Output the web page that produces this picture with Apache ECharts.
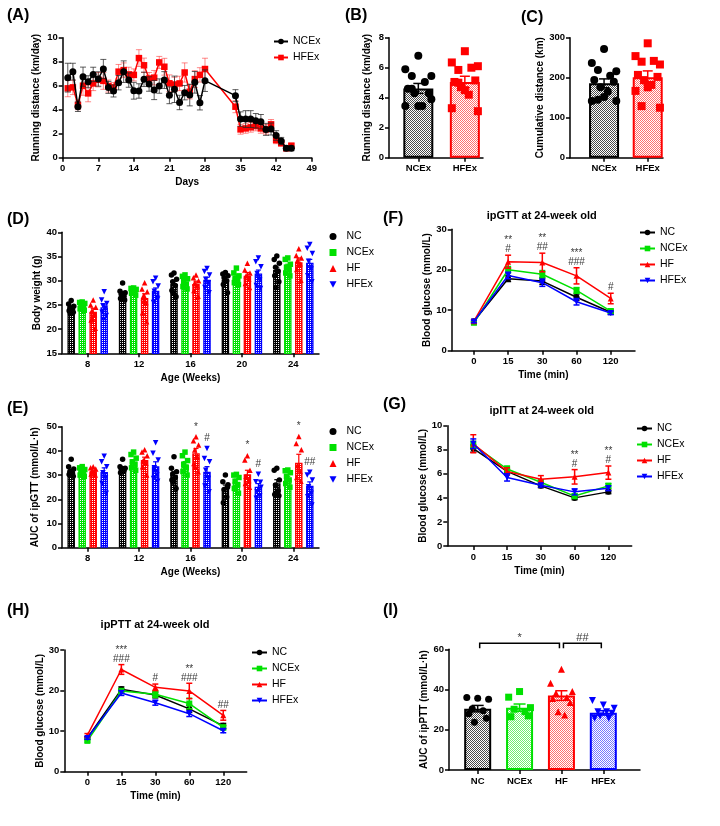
<!DOCTYPE html>
<html>
<head>
<meta charset="utf-8">
<script src="https://cdn.jsdelivr.net/npm/echarts@6/dist/echarts.min.js"></script>
<style>html,body{margin:0;padding:0;background:#fff;}#chart{width:720px;height:826px;}</style>
</head>
<body>
<div id="chart"></div>
<script>
// ================= DATA =================
const groupNames = ['NC', 'NCEx', 'HF', 'HFEx'];

// (A) daily running distance (km/day): mean and SEM
const aDays = [1,2,3,4,5,6,7,8,9,10,11,12,13,14,15,16,17,18,19,20,21,22,23,24,25,26,27,28,34,35,36,37,38,39,40,41,42,43,44,45];
const aNCEx = [6.67,7.17,4.25,6.75,6.33,6.94,6.56,7.39,5.86,5.56,6.25,7.17,6.47,5.58,5.56,6.53,6.14,5.64,5.97,6.47,5.2,5.7,4.6,5.42,5.22,6.28,4.58,6.42,5.17,3.22,3.22,3.22,3.08,3.0,2.36,2.39,1.85,1.39,0.78,0.78];
const aNCExErr = [1.2,0.7,0.4,0.8,0.5,0.6,0.6,0.8,0.5,0.5,0.6,0.9,0.6,0.7,0.6,0.6,0.6,0.8,0.6,0.7,0.7,1.1,0.6,0.6,0.9,0.9,0.6,0.9,0.5,0.6,0.7,0.7,0.6,0.6,0.5,0.5,0.4,0.3,0.2,0.2];
const aHFEx = [5.78,5.86,4.4,6.0,5.36,6.19,6.5,6.4,5.97,5.86,7.17,7.3,6.94,6.9,8.3,7.7,6.6,6.67,7.94,7.58,6.2,6.1,6.19,7.1,5.5,6.55,6.9,7.39,4.25,2.36,2.44,2.53,2.64,2.44,2.36,2.78,1.47,1.2,0.78,1.0];
const aHFExErr = [0.7,0.6,0.4,0.8,0.7,0.6,0.6,0.7,0.5,0.4,0.6,0.6,0.6,0.5,0.7,0.6,0.5,0.6,0.5,0.7,0.7,0.6,0.6,0.8,0.6,0.7,0.6,0.9,0.5,0.4,0.4,0.4,0.4,0.4,0.4,0.4,0.3,0.2,0.1,0.2];

// (B) running distance (km/day)
const bCats = ['NCEx', 'HFEx'];
const bMeans = [4.62, 5.05];
const bErrs = [0.33, 0.38];
const bPtsNCEx = [6.8,5.9,5.45,5.45,5.05,4.6,4.3,4.3,3.45,3.45,3.45,3.9,4.6];
const bPtsHFEx = [7.1,6.35,6.1,5.85,6.0,5.05,5.15,4.7,4.2,4.5,3.3,3.1,5.0];

// (C) cumulative distance (km)
const cCats = ['NCEx', 'HFEx'];
const cMeans = [186, 201];
const cErrs = [11, 16];
const cPtsNCEx = [272,237,216,219,205,194,190,176,165,152,142,142,145];
const cPtsHFEx = [286,254,233,240,242,207,202,194,182,176,167,125,129];

// (D) body weight (g) by age
const weekLabels = ['8', '12', '16', '20', '24'];
const dNC = [24.3,27.3,29.3,30.2,32.2];
const dNCEx = [24.9,28.0,29.8,30.7,32.9];
const dHF = [23.6,26.4,29.3,31.0,33.8];
const dHFEx = [24.5,27.9,30.2,31.5,33.7];
const dNCErr = [0.4,0.4,0.6,0.6,0.6];
const dNCExErr = [0.3,0.3,0.4,0.5,0.5];
const dHFErr = [0.7,0.9,0.6,0.7,0.9];
const dHFExErr = [0.5,0.6,0.5,0.7,0.7];
const dNCPts = [[25.9,25.2,24.7,24.4,24.1,23.8,23.5,23.2],[29.5,27.8,27.5,27.2,26.8,26.3,26.0,27.0],[31.6,31.2,30.3,29.8,29.0,28.0,26.7,27.5],[31.7,31.4,31.0,30.6,30.0,29.2,27.5],[35.1,34.4,33.6,32.8,32.0,31.0,29.8,28.6]];
const dNCExPts = [[25.6,25.5,25.3,25.0,24.6,24.2,23.9],[28.5,28.4,28.2,28.0,27.7,27.4,27.0],[31.2,30.9,30.4,29.8,29.3,28.8,28.3],[32.6,31.6,31.0,30.5,30.0,29.6,29.2],[34.7,34.4,33.4,32.8,32.2,31.6,31.0]];
const dHFPts = [[26.0,25.0,24.5,23.8,23.0,21.9,20.2,22.2],[29.6,28.3,27.7,26.5,25.5,23.4,21.5,27.0],[31.2,30.6,30.0,29.5,28.9,28.0,26.8],[33.6,32.2,31.6,31.0,30.3,29.4,28.6],[36.6,35.2,34.7,34.2,33.5,32.3,30.1]];
const dHFExPts = [[27.7,26.0,25.3,24.8,24.3,23.5,22.8,22.0],[30.5,29.8,28.9,27.8,26.5,25.5,26.2],[32.5,31.9,31.2,30.3,29.6,28.6,27.5],[34.7,33.9,32.9,31.5,30.1,29.0,28.4],[37.5,36.7,35.6,34.0,32.4,31.0,29.8]];

// (E) AUC of ipGTT (mmol/L·h) by age
const eNC = [31.6,32.8,30.0,24.5,26.6];
const eNCEx = [31.2,35.5,34.5,27.3,28.6];
const eHF = [31.6,36.2,39.0,30.4,35.1];
const eHFEx = [31.3,33.7,31.4,25.2,25.6];
const eNCErr = [0.8,0.7,1.4,1.4,1.5];
const eNCExErr = [0.6,0.9,1.1,1.0,0.9];
const eHFErr = [0.5,1.2,2.0,1.6,3.5];
const eHFExErr = [1.7,1.8,2.1,1.3,1.6];
const eNCPts = [[36.6,33.5,32.5,31.5,30.8,30.2,29.5],[36.6,33.5,32.8,32.3,31.8,31.0],[37.6,32.8,31.4,30.5,29.0,28.0,24.5,27.0],[30.0,27.3,26.0,24.0,21.0,18.6,25.0],[32.8,32.0,28.0,25.9,23.5,22.0,21.5]];
const eNCExPts = [[33.5,33.0,32.3,31.5,30.8,30.0,29.5],[39.5,38.5,37.0,35.5,34.5,33.0,32.0],[39.5,38.0,36.0,34.5,33.0,31.5,30.0],[30.3,30.0,29.0,27.5,26.0,24.5,22.5],[32.1,31.8,31.0,29.5,28.0,26.5,25.0]];
const eHFPts = [[33.5,33.0,32.5,31.8,31.0,30.5,30.0],[40.5,39.5,38.0,36.0,35.0,33.5,30.0],[45.8,44.2,42.4,40.4,37.6,34.8,31.4,33.5],[38.0,36.2,32.0,29.5,27.8,26.5,25.0],[46.0,43.1,40.5,34.0,31.5,29.0,27.5]];
const eHFExPts = [[37.8,35.5,33.5,31.0,28.8,26.5,22.5],[43.4,39.0,36.2,33.0,30.0,28.6,27.5],[41.0,36.9,35.5,32.0,28.6,25.5,23.1],[30.4,27.3,25.0,23.1,21.5,20.4,27.0],[31.2,30.0,28.0,25.2,22.5,21.1,17.6]];
const eMarksHF = ['', '', '*', '*', '*'];
const eMarksHFEx = ['', '', '#', '#', '##'];

// (F) ipGTT blood glucose (mmol/L)
const timeLabels = ['0', '15', '30', '60', '120'];
const fNC = [7.3,17.8,17.2,13.2,9.5];
const fNCEx = [6.9,20.0,18.9,14.9,9.8];
const fHF = [7.3,22.0,21.8,18.5,12.9];
const fHFEx = [7.2,18.6,16.8,12.1,9.3];
const fNCErr = [0.4,0.7,0.8,0.8,0.5];
const fNCExErr = [0.3,0.8,0.9,0.7,0.5];
const fHFErr = [0.4,1.6,2.3,2.0,1.3];
const fHFExErr = [0.3,0.8,0.9,0.8,0.4];
const fMarks = ['', '**\n#', '**\n##', '***\n###', '#'];

// (G) ipITT blood glucose (mmol/L)
const gNC = [8.1,6.2,5.0,4.0,4.5];
const gNCEx = [8.4,6.4,5.3,4.15,5.0];
const gHF = [8.5,6.2,5.55,5.75,6.1];
const gHFEx = [8.5,5.7,5.05,4.5,4.8];
const gNCErr = [0.3,0.2,0.15,0.15,0.15];
const gNCExErr = [0.3,0.25,0.2,0.2,0.2];
const gHFErr = [0.75,0.3,0.3,0.6,0.55];
const gHFExErr = [0.4,0.3,0.15,0.25,0.2];
const gMarks = ['', '', '', '**\n#', '**\n#'];

// (H) ipPTT blood glucose (mmol/L)
const hNC = [8.3,20.3,18.9,15.5,11.3];
const hNCEx = [7.6,19.9,19.1,16.8,10.9];
const hHF = [9.0,25.2,20.8,19.9,13.9];
const hHFEx = [8.3,19.4,17.0,14.3,10.1];
const hNCErr = [0.4,0.6,0.7,0.9,0.6];
const hNCExErr = [0.3,0.6,0.8,1.3,0.6];
const hHFErr = [0.4,1.2,0.8,1.9,1.2];
const hHFExErr = [0.3,0.6,0.6,0.7,0.5];
const hMarks = ['', '***\n###', '#', '**\n###', '##'];

// (I) AUC of ipPTT (mmol/L·h)
const iMeans = [30.5, 31.0, 37.0, 28.4];
const iErrs = [1.6, 1.8, 2.4, 1.1];
const iPtsNC = [35.7,36.0,35.2,30.5,29.5,28.0,25.7,23.7];
const iPtsNCEx = [39.0,36.2,31.0,30.2,29.0,26.5,26.9];
const iPtsHF = [50.1,43.1,39.0,38.1,36.0,35.5,33.5,29.0,27.4];
const iPtsHFEx = [32.3,34.5,30.7,29.0,25.7,25.7,28.2,26.9,29.0];
const iBrackets = [[0, 2, '*'], [2, 3, '##']];

// ================= STYLE / LAYOUT =================
const FONT = '"Liberation Sans", Arial, sans-serif';
const COL = {NC: '#000000', NCEx: '#00e000', HF: '#ff0000', HFEx: '#0000ff'};
const TINT = {'#000000': '#4a4a4a', '#00e000': '#70f070', '#ff0000': '#ff7070', '#0000ff': '#7878ff'};
const SYM = {NC: 'circle', NCEx: 'rect', HF: 'triangle', HFEx: 'path://M0,0L10,0L5,9Z'};

// dotted bar fill: 'light' = checkerboard of tinted colour and white, 'dense' = colour with white dots
function pattern(color, kind) {
  const c = document.createElement('canvas');
  c.width = 2; c.height = 2;
  const g = c.getContext('2d');
  if (kind === 'dense') {
    g.fillStyle = color; g.fillRect(0, 0, 2, 2);
    g.fillStyle = '#ffffff'; g.fillRect(0, 0, 1, 1);
  } else {
    g.fillStyle = '#ffffff'; g.fillRect(0, 0, 2, 2);
    g.fillStyle = TINT[color] || color; g.fillRect(0, 0, 1, 1); g.fillRect(1, 1, 1, 1);
  }
  return {image: c, repeat: 'repeat'};
}
function spread(n, half) {
  const cyc = [0, -1, 1, -0.5, 0.5, -0.8, 0.8, -0.3, 0.3];
  return Array.from({length: n}, (_, i) => cyc[i % cyc.length] * half);
}

// panel boxes: [xLeft, xRight, yTop, yBottom]
const BOX = {
  A: [62.7, 311.7, 37.7, 157.7], B: [389, 483, 37.7, 157.7], C: [570, 663, 37.7, 157.7],
  D: [62, 319, 232.3, 353.3], E: [62, 319, 426.7, 547.7], F: [451.7, 635, 229.3, 350.7],
  G: [447.3, 631.7, 425.7, 546], H: [64.3, 246.7, 650, 771.7], I: [449, 640, 649.3, 770]
};
const ORDER = ['A', 'B', 'C', 'D', 'E', 'F', 'G', 'H', 'I'];
const grid = ORDER.map(k => ({left: BOX[k][0], top: BOX[k][2], width: BOX[k][1] - BOX[k][0], height: BOX[k][3] - BOX[k][2]}));

const lineAx = {show: true, onZero: false, lineStyle: {color: '#000', width: 1.5}};
const tickAx = {show: true, length: 4, lineStyle: {color: '#000', width: 1.5}};
const lblAx = {color: '#000', fontFamily: FONT, fontWeight: 'bold', fontSize: 9.5};
const nameAx = {color: '#000', fontFamily: FONT, fontWeight: 'bold', fontSize: 10};

function xLabelled(gi, min, max, labels, name) {
  const vals = labels.map((_, i) => i);
  return {gridIndex: gi, type: 'value', min, max, name, nameLocation: 'middle', nameGap: 20, nameTextStyle: nameAx,
    axisLine: lineAx, axisTick: Object.assign({customValues: vals}, tickAx),
    axisLabel: Object.assign({customValues: vals, margin: 6, formatter: v => labels[Math.round(v)]}, lblAx),
    splitLine: {show: false}};
}
function xNum(gi, min, max, interval, name) {
  return {gridIndex: gi, type: 'value', min, max, interval, name, nameLocation: 'middle', nameGap: 20, nameTextStyle: nameAx,
    axisLine: lineAx, axisTick: tickAx, axisLabel: Object.assign({margin: 6}, lblAx), splitLine: {show: false}};
}
function yNum(gi, min, max, interval, name, gap) {
  return {gridIndex: gi, type: 'value', min, max, interval, name, nameLocation: 'middle', nameGap: gap, nameTextStyle: nameAx,
    axisLine: lineAx, axisTick: tickAx, axisLabel: Object.assign({margin: 5}, lblAx), splitLine: {show: false}};
}

const xAxis = [
  xNum(0, 0, 49, 7, 'Days'),
  xLabelled(1, -0.63, 1.39, bCats, ''),
  xLabelled(2, -0.78, 1.35, cCats, ''),
  xLabelled(3, -0.5, 4.5, weekLabels, 'Age (Weeks)'),
  xLabelled(4, -0.5, 4.5, weekLabels, 'Age (Weeks)'),
  xLabelled(5, -0.65, 4.71, timeLabels, 'Time (min)'),
  xLabelled(6, -0.77, 4.69, timeLabels, 'Time (min)'),
  xLabelled(7, -0.68, 4.69, timeLabels, 'Time (min)'),
  xLabelled(8, -0.685, 3.876, groupNames, '')
];
const I_YMAX = 60;
const yAxis = [
  yNum(0, 0, 10, 2, 'Running distance (km/day)', 21),
  yNum(1, 0, 8, 2, 'Running distance (km/day)', 17),
  yNum(2, 0, 300, 100, 'Cumulative distance (km)', 19.5),
  yNum(3, 15, 40, 5, 'Body weight (g)', 20),
  yNum(4, 0, 50, 10, 'AUC of ipGTT (mmol/L·h)', 21.5),
  yNum(5, 0, 30, 10, 'Blood glucose (mmol/L)', 19.5),
  yNum(6, 0, 10, 2, 'Blood glucose (mmol/L)', 18.5),
  yNum(7, 0, 30, 10, 'Blood glucose (mmol/L)', 19.5),
  yNum(8, 0, I_YMAX, 20, 'AUC of ipPTT (mmol/L·h)', 16)
];

// ================= SERIES HELPERS =================
const series = [];
function errSeries(gi, rows, color, cap, lw, z) {
  return {type: 'custom', xAxisIndex: gi, yAxisIndex: gi, data: rows, z, silent: true, clip: false,
    renderItem(params, api) {
      const x = api.value(0), m = api.value(1), e = api.value(2);
      const t = api.coord([x, m + e]), b = api.coord([x, m - e]);
      const st = {stroke: color, lineWidth: lw};
      return {type: 'group', children: [
        {type: 'line', shape: {x1: t[0], y1: t[1], x2: b[0], y2: b[1]}, style: st},
        {type: 'line', shape: {x1: t[0] - cap / 2, y1: t[1], x2: t[0] + cap / 2, y2: t[1]}, style: st},
        {type: 'line', shape: {x1: b[0] - cap / 2, y1: b[1], x2: b[0] + cap / 2, y2: b[1]}, style: st}
      ]};
    }};
}
function lineSeries(gi, name, data, color, symbol, size, z) {
  return {name, type: 'line', xAxisIndex: gi, yAxisIndex: gi, data, symbol, symbolSize: size, z, silent: true,
    lineStyle: {color, width: 1.5}, itemStyle: {color}, emphasis: {disabled: true}};
}
function annotSeries(gi, pts, texts, dist, fontSize, lineHeight) {
  return {type: 'scatter', xAxisIndex: gi, yAxisIndex: gi, symbolSize: 0, silent: true, z: 10, clip: false,
    data: pts,
    label: {show: true, position: 'top', distance: dist, formatter: p => texts[p.dataIndex],
      color: '#000', fontFamily: FONT, fontSize, lineHeight, align: 'center'}};
}

// ---- (A)
series.push(errSeries(0, aDays.map((d, i) => [d, aHFEx[i], aHFExErr[i]]), 'rgba(255,40,40,0.55)', 6, 1, 2));
series.push(lineSeries(0, 'A|HFEx', aDays.map((d, i) => [d, aHFEx[i]]), '#ff0000', 'rect', 6.5, 3));
series.push(errSeries(0, aDays.map((d, i) => [d, aNCEx[i], aNCExErr[i]]), 'rgba(40,40,40,0.75)', 6, 1, 4));
series.push(lineSeries(0, 'A|NCEx', aDays.map((d, i) => [d, aNCEx[i]]), '#000000', 'circle', 7, 5));

// ---- simple bar panels (B, C, I)
function simpleBars(gi, prefix, means, errs, ptsList, colors, symbols, barW, jHalf, symSize, cap) {
  series.push({type: 'bar', xAxisIndex: gi, yAxisIndex: gi, barWidth: barW, z: 2, silent: true,
    data: means.map((m, k) => ({value: [k, m], itemStyle: {color: pattern(colors[k], 'light'), borderColor: colors[k], borderWidth: 2}}))});
  ptsList.forEach((pts, k) => {
    const j = spread(pts.length, jHalf);
    series.push({name: prefix + '|' + k, type: 'scatter', xAxisIndex: gi, yAxisIndex: gi, silent: true, z: 3,
      symbol: symbols[k], symbolSize: symSize, itemStyle: {color: colors[k], opacity: 1},
      data: pts.map((v, n) => [k + j[n], v])});
    series.push(errSeries(gi, [[k, means[k], errs[k]]], colors[k], cap, 1.5, 4));
  });
}
simpleBars(1, 'B', bMeans, bErrs, [bPtsNCEx, bPtsHFEx], ['#000000', '#ff0000'], ['circle', 'rect'], 30, 0.28, 8, 10);
simpleBars(2, 'C', cMeans, cErrs, [cPtsNCEx, cPtsHFEx], ['#000000', '#ff0000'], ['circle', 'rect'], 30, 0.28, 8, 10);
simpleBars(8, 'I', iMeans, iErrs, [iPtsNC, iPtsNCEx, iPtsHF, iPtsHFEx], groupNames.map(g => COL[g]), groupNames.map(g => SYM[g]), 27, 0.26, 7, 12);

// brackets in (I)
series.push({type: 'custom', xAxisIndex: 8, yAxisIndex: 8, clip: false, silent: true, z: 6,
  data: iBrackets.map(b => [b[0], b[1]]),
  renderItem(params, api) {
    const a = api.coord([api.value(0), I_YMAX]), b = api.coord([api.value(1), I_YMAX]);
    const y = a[1] - 6, x1 = a[0] + 2, x2 = b[0] - 2;
    return {type: 'polyline', shape: {points: [[x1, y + 5], [x1, y], [x2, y], [x2, y + 5]]},
      style: {stroke: '#000', lineWidth: 1.5, fill: 'none'}};
  }});
series.push(annotSeries(8, iBrackets.map(b => [(b[0] + b[1]) / 2, I_YMAX]), iBrackets.map(b => b[2]), 6, 11, 11));

// ---- grouped bar panels (D, E)
function groupedBars(gi, prefix, means, errs, pts) {
  const step = 0.214;
  groupNames.forEach((g, k) => {
    const off = (k - 1.5) * step;
    series.push({name: prefix + '|' + g + ' bar', type: 'bar', xAxisIndex: gi, yAxisIndex: gi, barWidth: 7.5, barGap: '-100%', z: 2, silent: true,
      data: means[k].map((m, i) => [i + off, m]),
      itemStyle: {color: pattern(COL[g], 'dense'), borderColor: COL[g], borderWidth: 1.3}});
    const sp = [];
    pts[k].forEach((arr, i) => {
      const j = spread(arr.length, 0.05);
      arr.forEach((v, n) => sp.push([i + off + j[n], v]));
    });
    series.push({name: prefix + '|' + g, type: 'scatter', xAxisIndex: gi, yAxisIndex: gi, silent: true, z: 3,
      symbol: SYM[g], symbolSize: 5.5, itemStyle: {color: COL[g], opacity: 1}, data: sp});
    series.push(errSeries(gi, means[k].map((m, i) => [i + off, m, errs[k][i]]), COL[g], 5, 1.2, 4));
  });
}
groupedBars(3, 'D', [dNC, dNCEx, dHF, dHFEx], [dNCErr, dNCExErr, dHFErr, dHFExErr], [dNCPts, dNCExPts, dHFPts, dHFExPts]);
groupedBars(4, 'E', [eNC, eNCEx, eHF, eHFEx], [eNCErr, eNCExErr, eHFErr, eHFExErr], [eNCPts, eNCExPts, eHFPts, eHFExPts]);
// significance marks in (E), placed above the highest point of each group
[[2, eHFPts, eMarksHF], [3, eHFExPts, eMarksHFEx]].forEach(([k, pts, marks]) => {
  const off = (k - 1.5) * 0.214;
  series.push(annotSeries(4, pts.map((arr, i) => [i + off, Math.max(...arr)]), marks, 5, 10, 10));
});

// ---- line panels (F, G, H)
function linePanel(gi, prefix, vals, errs, marks) {
  groupNames.forEach((g, k) => {
    series.push(errSeries(gi, vals[k].map((v, i) => [i, v, errs[k][i]]), COL[g], 6, 1.5, 3 + k * 2));
    series.push(lineSeries(gi, prefix + '|' + g, vals[k].map((v, i) => [i, v]), COL[g], SYM[g], 6, 4 + k * 2));
  });
  series.push(annotSeries(gi, vals[2].map((v, i) => [i, v + errs[2][i]]), marks, 1, 10, 9));
}
linePanel(5, 'F', [fNC, fNCEx, fHF, fHFEx], [fNCErr, fNCExErr, fHFErr, fHFExErr], fMarks);
linePanel(6, 'G', [gNC, gNCEx, gHF, gHFEx], [gNCErr, gNCExErr, gHFErr, gHFExErr], gMarks);
linePanel(7, 'H', [hNC, hNCEx, hHF, hHFEx], [hNCErr, hNCExErr, hHFErr, hHFExErr], hMarks);

// ================= TITLES & LEGENDS =================
const tBig = {color: '#000', fontFamily: FONT, fontWeight: 'bold', fontSize: 16};
const tSub = {color: '#000', fontFamily: FONT, fontWeight: 'bold', fontSize: 11};
const title = [
  {text: '(A)', left: 7, top: 8, padding: 0, textStyle: tBig},
  {text: '(B)', left: 345, top: 8, padding: 0, textStyle: tBig},
  {text: '(C)', left: 521, top: 10, padding: 0, textStyle: tBig},
  {text: '(D)', left: 7, top: 212, padding: 0, textStyle: tBig},
  {text: '(E)', left: 7, top: 401, padding: 0, textStyle: tBig},
  {text: '(F)', left: 383, top: 211, padding: 0, textStyle: tBig},
  {text: '(G)', left: 383, top: 397, padding: 0, textStyle: tBig},
  {text: '(H)', left: 7, top: 603, padding: 0, textStyle: tBig},
  {text: '(I)', left: 383, top: 603, padding: 0, textStyle: tBig},
  {text: 'ipGTT at 24-week old', left: 541.7, top: 210, textAlign: 'center', padding: 0, textStyle: tSub},
  {text: 'ipITT at 24-week old', left: 541.7, top: 405, textAlign: 'center', padding: 0, textStyle: tSub},
  {text: 'ipPTT at 24-week old', left: 155, top: 619, textAlign: 'center', padding: 0, textStyle: tSub}
];
const legText = {color: '#000', fontFamily: FONT, fontSize: 10.5};
const legBase = {orient: 'vertical', padding: 0, selectedMode: false, symbolKeepAspect: true,
  formatter: n => n.split('|')[1], textStyle: legText};
const names = p => groupNames.map(g => p + '|' + g);
const legend = [
  Object.assign({}, legBase, {left: 273, top: 36, itemWidth: 14, itemHeight: 7, itemGap: 5, data: ['A|NCEx', 'A|HFEx']}),
  Object.assign({}, legBase, {left: 329.5, top: 231, itemWidth: 7, itemHeight: 7, itemGap: 5, data: names('D'),
    textStyle: Object.assign({padding: [0, 0, 0, 5]}, legText)}),
  Object.assign({}, legBase, {left: 329.5, top: 426, itemWidth: 7, itemHeight: 7, itemGap: 5, data: names('E'),
    textStyle: Object.assign({padding: [0, 0, 0, 5]}, legText)}),
  Object.assign({}, legBase, {left: 639, top: 227, itemWidth: 15, itemHeight: 7, itemGap: 5, data: names('F')}),
  Object.assign({}, legBase, {left: 636, top: 423, itemWidth: 15, itemHeight: 7, itemGap: 5, data: names('G')}),
  Object.assign({}, legBase, {left: 251, top: 647, itemWidth: 15, itemHeight: 7, itemGap: 5, data: names('H')})
];

const chart = echarts.init(document.getElementById('chart'), null, {renderer: 'canvas'});
chart.setOption({animation: false, backgroundColor: '#fff', title, legend, grid, xAxis, yAxis, series});
</script>
</body>
</html>
